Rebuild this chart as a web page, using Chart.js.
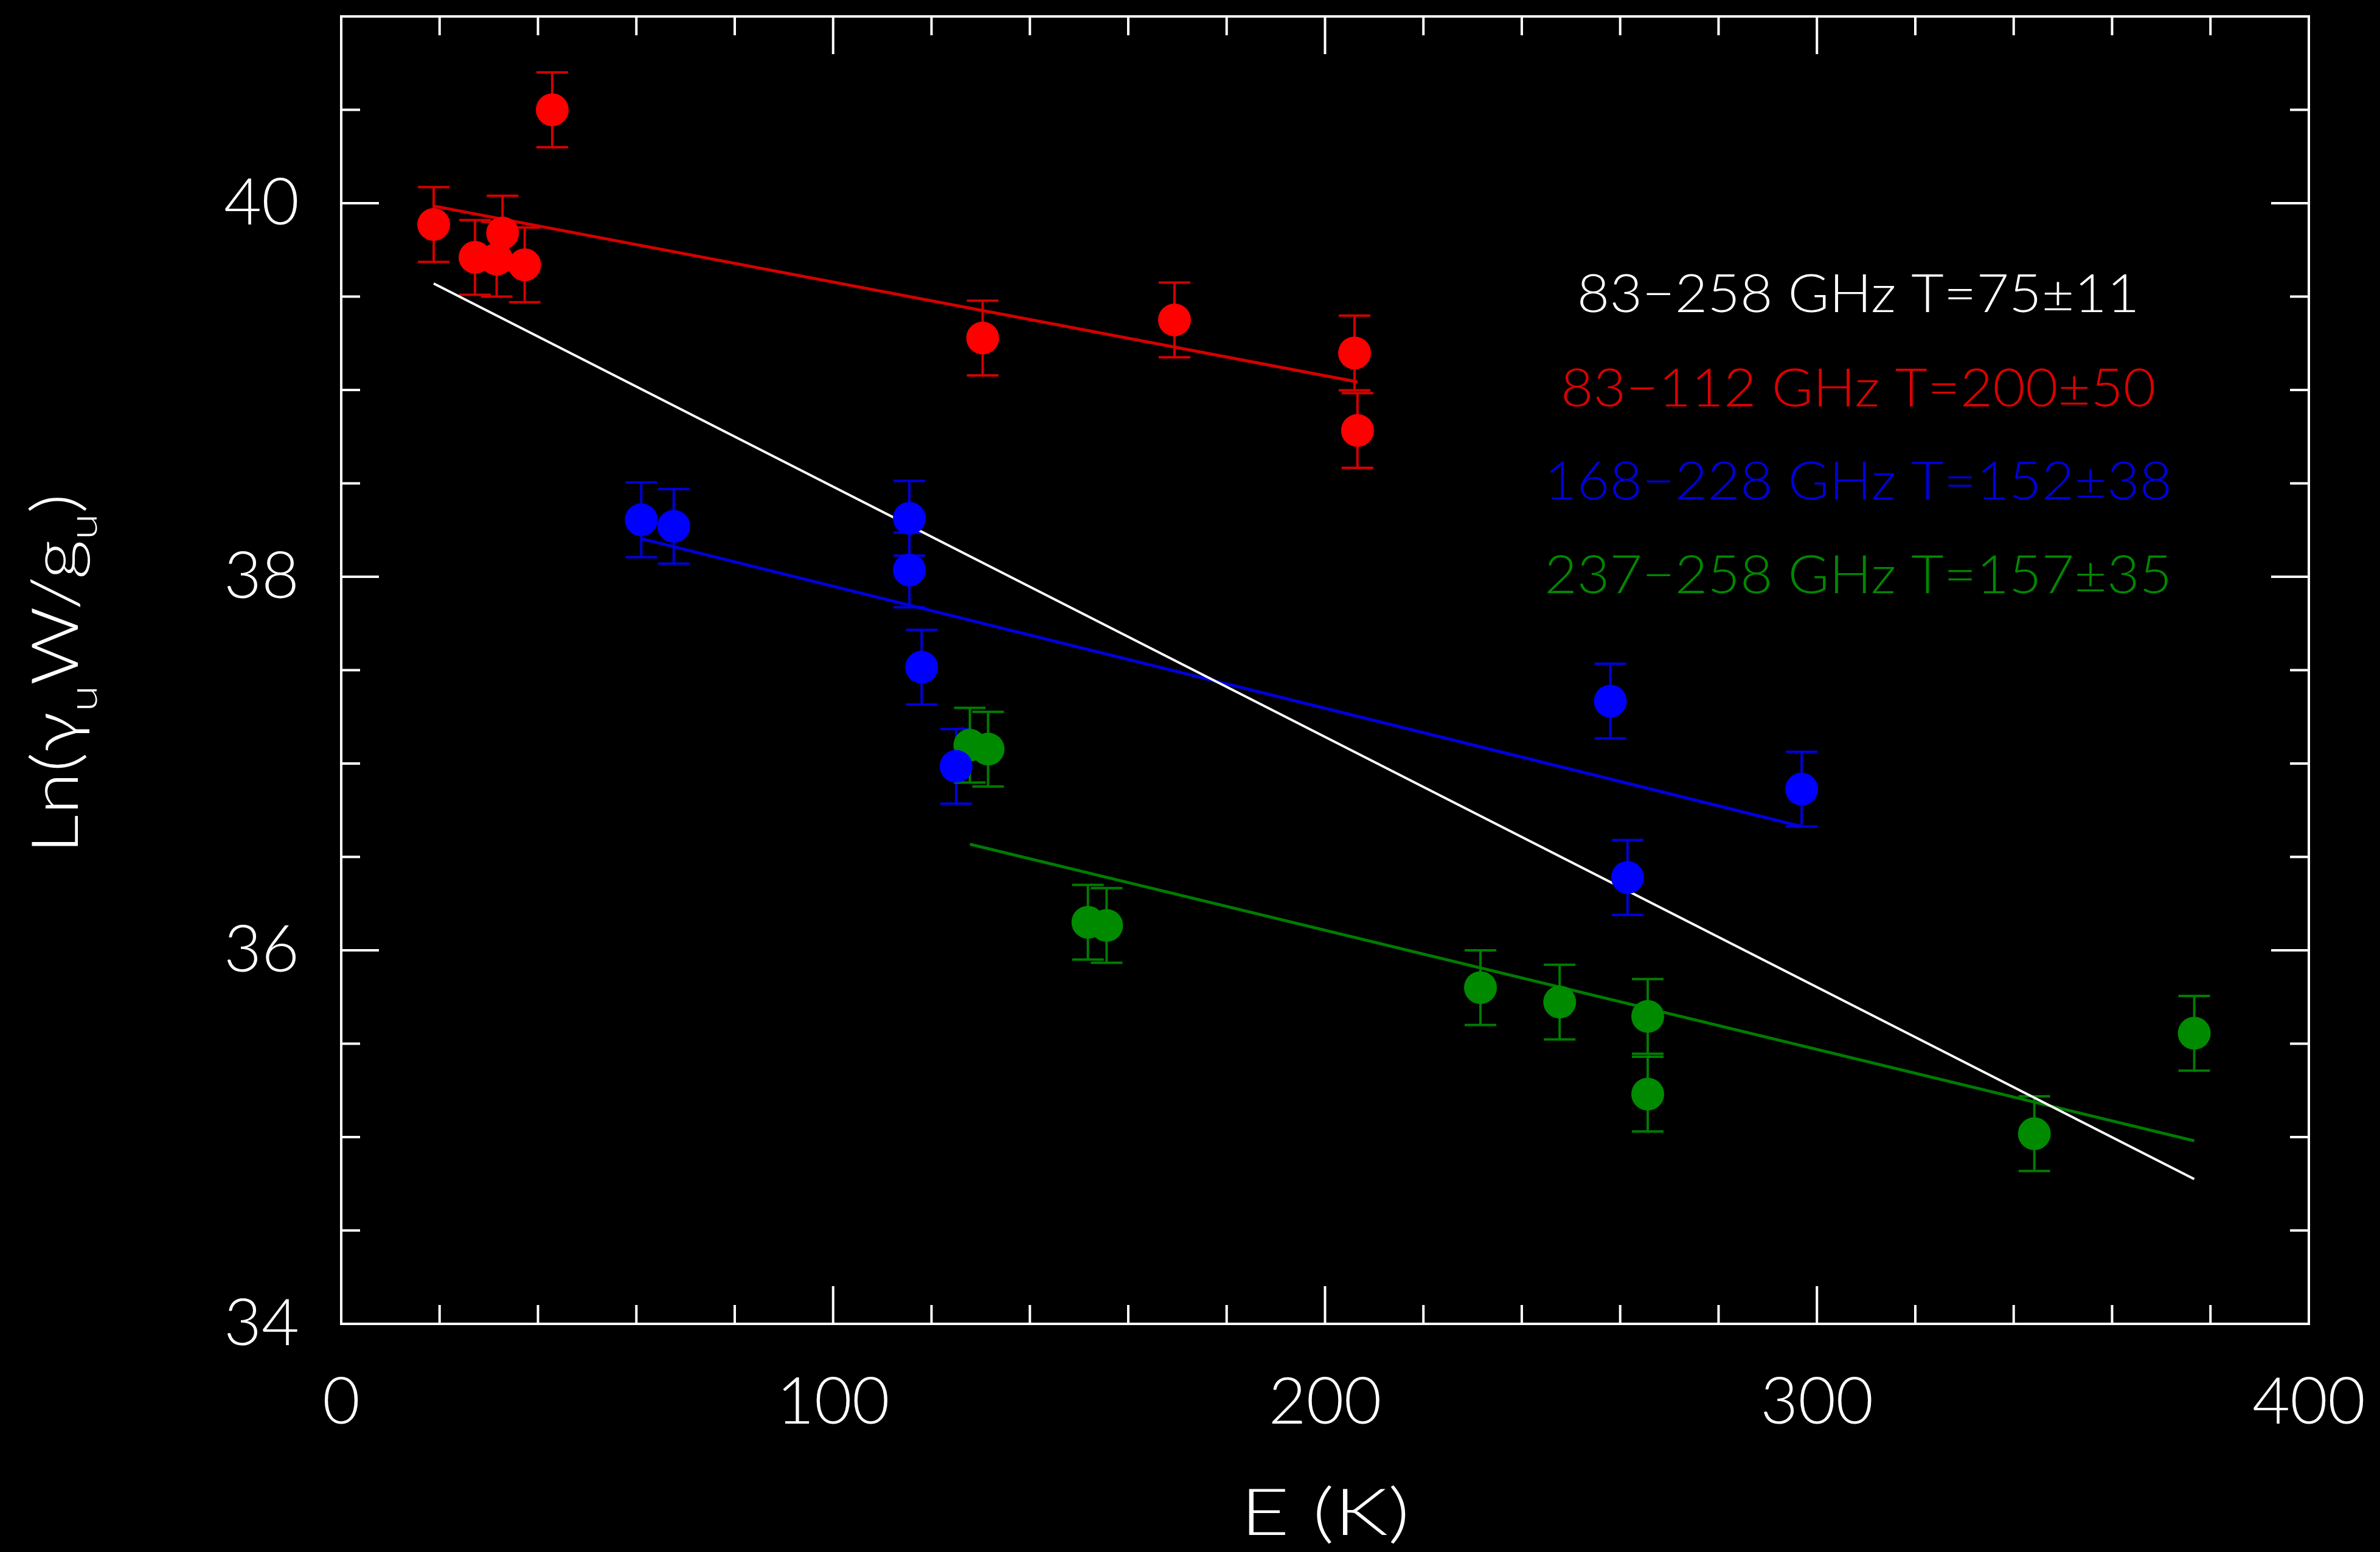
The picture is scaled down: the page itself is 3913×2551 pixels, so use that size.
<!DOCTYPE html>
<html>
<head>
<meta charset="utf-8">
<script src="https://cdn.jsdelivr.net/npm/chart.js@4.4.1/dist/chart.umd.min.js"></script>
<style>
  html, body { margin: 0; padding: 0; background: #000; }
  canvas { display: block; }
</style>
</head>
<body>
<canvas id="c" width="3913" height="2551"></canvas>
<script>
// ---------------- data ----------------
const redE  = [18.8, 27.2, 31.6, 32.8, 37.3, 42.9, 130.4, 169.4, 206.0, 206.6];
const redLn = [39.886, 39.71, 39.70, 39.84, 39.67, 40.50, 39.278, 39.375, 39.198, 38.783];
const redErr = [0.2, 0.2, 0.2, 0.2, 0.2, 0.2, 0.2, 0.2, 0.2, 0.2];

const blueE  = [61.0, 67.6, 115.5, 115.5, 118.0, 125.0, 258.0, 261.5, 296.9];
const blueLn = [38.305, 38.27, 38.313, 38.036, 37.516, 36.985, 37.334, 36.39, 36.863];
const blueErr = [0.2, 0.2, 0.2, 0.2, 0.2, 0.2, 0.2, 0.2, 0.2];

const greenE  = [127.8, 131.5, 151.8, 155.6, 231.6, 247.7, 265.6, 265.6, 344.2, 376.7];
const greenLn = [37.098, 37.077, 36.15, 36.133, 35.80, 35.723, 35.646, 35.23, 35.018, 35.556];
const greenErr = [0.2, 0.2, 0.2, 0.2, 0.2, 0.2, 0.2, 0.2, 0.2, 0.2];

// fitted lines (end points)
const fitAllE  = [18.8, 376.7];   const fitAllLn  = [39.57, 34.775];
const fitRedE  = [18.8, 206.6];   const fitRedLn  = [39.985, 39.043];
const fitBlueE = [61.0, 296.9];   const fitBlueLn = [38.204, 36.663];
const fitGreenE= [127.8, 376.7];  const fitGreenLn= [36.568, 34.98];

const legendLabels = ["83\u2212258 GHz T=75\u00b111", "83\u2212112 GHz T=200\u00b150",
                      "168\u2212228 GHz T=152\u00b138", "237\u2212258 GHz T=157\u00b135"];

const xTickLabels = [0, 100, 200, 300, 400];
const yTickLabels = [34, 36, 38, 40];
const xTitle = "E (K)";

// ---------------- styles ----------------
const FONT = "Lato, 'Open Sans', 'DejaVu Sans', sans-serif";
const COL = {
  white: '#ffffff',
  redPt: '#ff0000', redLine: '#d40000', redTxt: '#dd0000',
  bluePt: '#0000ff', blueLine: '#0000dd', blueTxt: '#0000dd',
  greenPt: '#008a00', greenLine: '#007c00', greenTxt: '#008800'
};

function pts(xs, ys) { return xs.map((x, i) => ({ x: x, y: ys[i] })); }

const pointSets = [
  { data: pts(redE, redLn), err: redErr, pt: COL.redPt, bar: COL.redLine },
  { data: pts(blueE, blueLn), err: blueErr, pt: COL.bluePt, bar: COL.blueLine },
  { data: pts(greenE, greenLn), err: greenErr, pt: COL.greenPt, bar: COL.greenLine }
];

const datasets = [];
[[fitAllE, fitAllLn, COL.white, 4], [fitRedE, fitRedLn, COL.redLine, 5],
 [fitBlueE, fitBlueLn, COL.blueLine, 5], [fitGreenE, fitGreenLn, COL.greenLine, 5]].forEach(f => {
  datasets.push({
    type: 'line', data: pts(f[0], f[1]), showLine: true, borderColor: f[2],
    borderWidth: f[3], pointRadius: 0, fill: false, order: 2, tension: 0
  });
});
pointSets.forEach((s, k) => {
  datasets.push({
    type: 'scatter', data: s.data, pointRadius: 27, pointHoverRadius: 27,
    backgroundColor: s.pt, borderColor: s.pt, borderWidth: 0, order: 1
  });
});

// error bars plugin (drawn under the markers)
const errorBars = {
  id: 'errorBars',
  beforeDatasetsDraw(chart) {
    const ctx = chart.ctx, xs = chart.scales.x, ys = chart.scales.y;
    ctx.save();
    ctx.lineWidth = 4;
    pointSets.forEach(s => {
      ctx.strokeStyle = s.bar;
      s.data.forEach((p, i) => {
        const px = xs.getPixelForValue(p.x);
        const top = ys.getPixelForValue(p.y + s.err[i]);
        const bot = ys.getPixelForValue(p.y - s.err[i]);
        ctx.beginPath();
        ctx.moveTo(px, top); ctx.lineTo(px, bot);
        ctx.moveTo(px - 26, top); ctx.lineTo(px + 26, top);
        ctx.moveTo(px - 26, bot); ctx.lineTo(px + 26, bot);
        ctx.stroke();
      });
    });
    ctx.restore();
  }
};

// frame + inward ticks on all four sides + texts
const frameAndText = {
  id: 'frameAndText',
  afterDraw(chart) {
    const ctx = chart.ctx, a = chart.chartArea, xs = chart.scales.x, ys = chart.scales.y;
    ctx.save();
    ctx.strokeStyle = COL.white;
    ctx.lineWidth = 4;
    ctx.strokeRect(a.left, a.top, a.right - a.left, a.bottom - a.top);
    ctx.beginPath();
    for (let v = xs.min; v <= xs.max + 1e-9; v += 20) {
      const px = xs.getPixelForValue(v);
      const len = (Math.abs(v % 100) < 1e-6) ? 62 : 31;
      ctx.moveTo(px, a.bottom); ctx.lineTo(px, a.bottom - len);
      ctx.moveTo(px, a.top); ctx.lineTo(px, a.top + len);
    }
    for (let v = ys.min; v <= ys.max + 1e-9; v += 0.5) {
      const py = ys.getPixelForValue(v);
      const len = (Math.abs(v % 2) < 1e-6) ? 62 : 31;
      ctx.moveTo(a.left, py); ctx.lineTo(a.left + len, py);
      ctx.moveTo(a.right, py); ctx.lineTo(a.right - len, py);
    }
    ctx.stroke();

    // x title (slightly stretched horizontally like the reference font)
    ctx.fillStyle = COL.white;
    ctx.font = "300 107px " + FONT;
    ctx.textAlign = 'center';
    ctx.textBaseline = 'alphabetic';
    ctx.save();
    ctx.translate((a.left + a.right) / 2, 2523);
    ctx.scale(1.3, 1);
    ctx.fillText(xTitle, 0, 0);
    ctx.restore();

    // y title with subscripts: Ln(γ_u W/g_u)
    const parts = [["Ln(\u03b3", 0], ["u", 1], ["W/g", 0], ["u", 1], [")", 0]];
    const big = "300 107px " + FONT, small = "300 66px " + FONT;
    let total = 0;
    parts.forEach(p => { ctx.font = p[1] ? small : big; total += ctx.measureText(p[0]).width; });
    ctx.save();
    ctx.translate(128, (a.top + a.bottom) / 2 + 6);
    ctx.rotate(-Math.PI / 2);
    ctx.scale(1.19, 1);
    ctx.textAlign = 'left';
    let cx = -total / 2;
    parts.forEach(p => {
      ctx.font = p[1] ? small : big;
      ctx.fillText(p[0], cx, p[1] ? 31 : 0);
      cx += ctx.measureText(p[0]).width;
    });
    ctx.restore();

    // legend texts
    const lcol = [COL.white, COL.redTxt, COL.blueTxt, COL.greenTxt];
    const lfrac = [0.2260, 0.2985, 0.3696, 0.4411];
    ctx.font = "300 86px " + FONT;
    ctx.textAlign = 'center';
    legendLabels.forEach((t, i) => {
      ctx.fillStyle = lcol[i];
      ctx.save();
      ctx.translate(a.left + 0.771 * (a.right - a.left), a.top + lfrac[i] * (a.bottom - a.top));
      ctx.scale(1.075, 1);
      ctx.fillText(t, 0, 0);
      ctx.restore();
    });
    ctx.restore();
  }
};

function zeroPad(s) { s.paddingTop = 0; s.paddingBottom = 0; s.paddingLeft = 0; s.paddingRight = 0; }

new Chart(document.getElementById('c').getContext('2d'), {
  type: 'scatter',
  data: { datasets: datasets },
  options: {
    responsive: false,
    animation: false,
    devicePixelRatio: 1,
    events: [],
    layout: { padding: { top: 22, right: 117, left: 0, bottom: 0 } },
    plugins: { legend: { display: false }, tooltip: { enabled: false }, title: { display: false } },
    scales: {
      x: {
        type: 'linear', min: 0, max: 400,
        afterFit(s) { s.height = 375; zeroPad(s); },
        afterBuildTicks(s) { s.ticks = xTickLabels.map(v => ({ value: v })); },
        grid: { display: false, drawTicks: false },
        border: { display: false },
        ticks: {
          color: COL.white, padding: 65, maxRotation: 0, autoSkip: false,
          font: { family: FONT, size: 107, weight: '300' },
          callback: v => String(v)
        }
      },
      y: {
        type: 'linear', min: 34, max: 41,
        afterFit(s) { s.width = 561; zeroPad(s); },
        afterBuildTicks(s) { s.ticks = yTickLabels.map(v => ({ value: v })); },
        grid: { display: false, drawTicks: false },
        border: { display: false },
        ticks: {
          color: COL.white, padding: 69, autoSkip: false,
          font: { family: FONT, size: 107, weight: '300' },
          callback: v => String(v)
        }
      }
    }
  },
  plugins: [errorBars, frameAndText]
});
</script>
</body>
</html>
